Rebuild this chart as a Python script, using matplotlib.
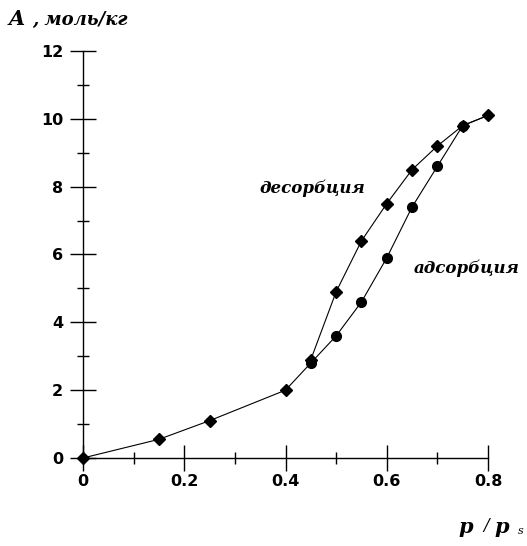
import matplotlib
matplotlib.use('Agg')
import matplotlib.pyplot as plt
from matplotlib.ticker import MultipleLocator

# adsorption branch (circles)
ads_x = [0, 0.15, 0.25, 0.4, 0.45, 0.5, 0.55, 0.6, 0.65, 0.7, 0.75, 0.8]
ads_y = [0, 0.55, 1.1, 2.0, 2.8, 3.6, 4.6, 5.9, 7.4, 8.6, 9.8, 10.1]

# desorption branch (diamonds)
des_x = [0.8, 0.75, 0.7, 0.65, 0.6, 0.55, 0.5, 0.45]
des_y = [10.1, 9.8, 9.2, 8.5, 7.5, 6.4, 4.9, 2.9]

# common low-pressure points drawn as diamonds
low_x = [0, 0.15, 0.25, 0.4]
low_y = [0, 0.55, 1.1, 2.0]

fig = plt.figure(figsize=(5.27, 5.46), dpi=100)
ax = fig.add_axes([0.1575, 0.1612, 0.7685, 0.7454])

ax.plot(ads_x, ads_y, color='black', lw=0.8, zorder=2)
ax.plot(des_x, des_y, color='black', lw=0.8, zorder=2)
ax.plot(ads_x[4:11], ads_y[4:11], 'o', color='black', ms=7, zorder=3,
        clip_on=False)
ax.plot(des_x, des_y, 'D', color='black', ms=6.5, zorder=3, clip_on=False)
ax.plot(low_x, low_y, 'D', color='black', ms=6.5, zorder=3, clip_on=False)

ax.set_xlim(0, 0.8)
ax.set_ylim(0, 12)
for s in ['top', 'right']:
    ax.spines[s].set_visible(False)
for s in ['left', 'bottom']:
    ax.spines[s].set_linewidth(1.0)

ax.xaxis.set_major_locator(MultipleLocator(0.2))
ax.xaxis.set_minor_locator(MultipleLocator(0.1))
ax.yaxis.set_major_locator(MultipleLocator(2))
ax.yaxis.set_minor_locator(MultipleLocator(1))
ax.set_xticks([0, 0.2, 0.4, 0.6, 0.8])
ax.set_xticklabels(['0', '0.2', '0.4', '0.6', '0.8'])
ax.tick_params(which='major', direction='inout', length=18.5, width=1.0,
               labelsize=11.5, pad=5)
ax.tick_params(which='minor', direction='inout', length=9, width=1.0)
ax.tick_params(axis='x', which='major', pad=2)
for lab in ax.get_xticklabels() + ax.get_yticklabels():
    lab.set_fontweight('bold')
ax.patch.set_visible(False)

serif = 'DejaVu Serif'
bi = dict(fontstyle='italic', fontweight='bold', family=serif)
fig.text(0.017, 0.966, 'A', fontsize=15, va='center', **bi)
fig.text(0.060, 0.963, ', моль/кг', fontsize=13, va='center', **bi)
fig.text(0.870, 0.034, 'p', fontsize=15, va='center', **bi)
fig.text(0.917, 0.038, '/', fontsize=12, va='center', family=serif,
         fontstyle='italic')
fig.text(0.938, 0.034, 'p', fontsize=15, va='center', **bi)
fig.text(0.983, 0.027, 's', fontsize=8, va='center', family=serif,
         fontstyle='italic')

ax.text(0.452, 7.94, 'десорбция', fontsize=12, ha='center', va='center', **bi)
ax.text(0.757, 5.59, 'адсорбция', fontsize=12, ha='center', va='center', **bi)

fig.savefig('out.png', dpi=100)
